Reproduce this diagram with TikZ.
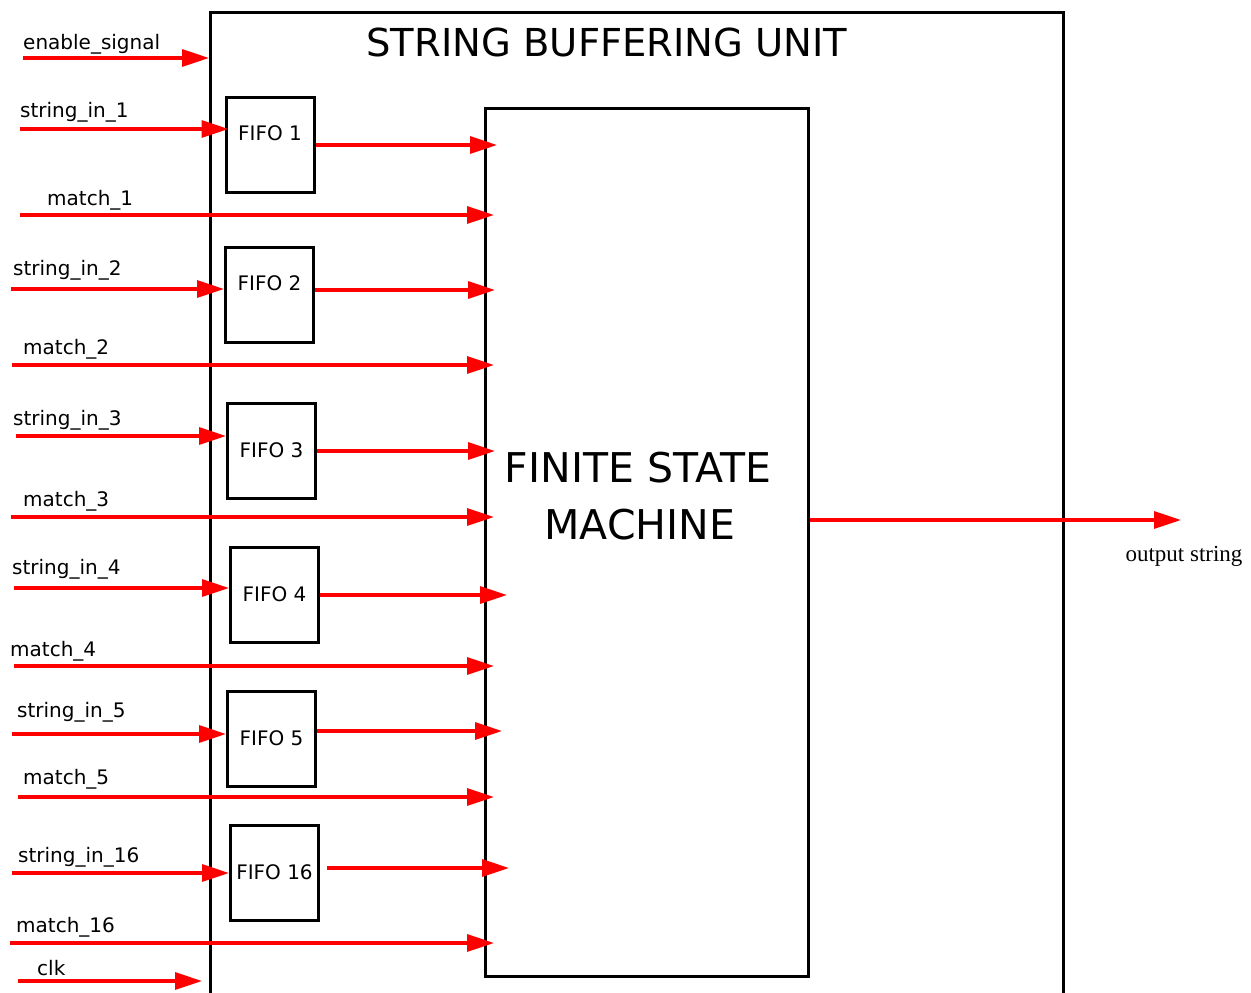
\documentclass[tikz,border=0pt]{standalone}
\usepackage{fontspec}
\setmainfont{DejaVu Sans}
\newfontfamily\outfont{Liberation Serif}
\usepackage{tikz}
\usetikzlibrary{arrows.meta,positioning,calc}
\definecolor{SigRed}{HTML}{FF0000}
\tikzset{
  unitbox/.style={draw=black, line width=3pt, minimum width=853pt, minimum height=1000pt,
                  anchor=north west, inner sep=0pt},
  fsmnode/.style={draw=black, line width=3pt, minimum width=323pt, minimum height=868pt,
                  anchor=north west, inner sep=0pt},
  fifonode/.style={draw=black, line width=3pt, minimum width=88pt, minimum height=95pt,
                  inner sep=0pt, font=\fontsize{20}{24}\selectfont},
  fifohigh/.style={fifonode, text depth=22pt},
  siglabel/.style={anchor=base west, inner sep=0pt, font=\fontsize{20}{24}\selectfont},
  bigtext/.style={anchor=base, inner sep=0pt, font=\fontsize{41}{48}\selectfont},
  sigarr/.style={-{Triangle[length=27pt,width=17pt]}, line width=3.2pt, SigRed},
  fsmarr/.style={sigarr, shorten >=-10pt}
}

\begin{document}
\begin{tikzpicture}[x=1pt, y=-1pt]
\useasboundingbox[fill=white] (0,0) rectangle (1251,993);

\node[unitbox] (unit) at (209,11) {};
\node[bigtext, font=\fontsize{38.5}{44}\selectfont] (title) at (607,56) {STRING BUFFERING UNIT};

\node[fsmnode] (fsm) at (484,107) {};
\node[bigtext] (fsmtop) at (638,482) {FINITE STATE};
\node[bigtext] (fsmbot) at (640,539) {MACHINE};

\node[fifohigh] (fifo1) at (270,144.5) {FIFO 1};
\node[fifohigh] (fifo2) at (269.5,294.5) {FIFO 2};
\node[fifonode] (fifo3) at (271.5,450.5) {FIFO 3};
\node[fifonode] (fifo4) at (274.5,594.5) {FIFO 4};
\node[fifonode] (fifo5) at (271.5,738.5) {FIFO 5};
\node[fifonode] (fifo16) at (274.5,872.5) {FIFO 16};

\coordinate (en) at (23,58);
\coordinate (in1) at (20,129);
\coordinate (m1) at (20,215);
\coordinate (in2) at (11,289);
\coordinate (m2) at (12,365);
\coordinate (in3) at (16,436);
\coordinate (m3) at (11,517);
\coordinate (in4) at (14,588);
\coordinate (m4) at (14,666);
\coordinate (in5) at (12,734);
\coordinate (m5) at (18,797);
\coordinate (in16) at (12,873);
\coordinate (m16) at (10,943);
\coordinate (clk) at (18,981);

\coordinate (f1) at (497,145);
\coordinate (f2) at (495,290);
\coordinate (f3) at (495,451);
\coordinate (f4) at (507,595);
\coordinate (f5) at (502,731);
\coordinate (f16) at (509,868);
\coordinate (out) at (1181,520);

\node[siglabel] (len) at (23,49) {enable\_signal};
\node[siglabel] (lin1) at (20,117) {string\_in\_1};
\node[siglabel] (lm1) at (47,205) {match\_1};
\node[siglabel] (lin2) at (13,275) {string\_in\_2};
\node[siglabel] (lm2) at (23,354) {match\_2};
\node[siglabel] (lin3) at (13,425) {string\_in\_3};
\node[siglabel] (lm3) at (23,506) {match\_3};
\node[siglabel] (lin4) at (12,574) {string\_in\_4};
\node[siglabel] (lm4) at (10,656) {match\_4};
\node[siglabel] (lin5) at (17,717) {string\_in\_5};
\node[siglabel] (lm5) at (23,784) {match\_5};
\node[siglabel] (lin16) at (18,862) {string\_in\_16};
\node[siglabel] (lm16) at (16,932) {match\_16};
\node[siglabel] (lclk) at (37,975) {clk};
\node[anchor=base, inner sep=0pt, font=\outfont\fontsize{23}{27}\selectfont] (lout) at (1184,561) {output string};

\draw[sigarr] (en) -- (en -| unit.west);
\draw[sigarr, shorten >=-4pt] (in1) -- (in1 -| fifo1.west);
\draw[sigarr] (in2) -- (in2 -| fifo2.west);
\draw[sigarr] (in3) -- (in3 -| fifo3.west);
\draw[sigarr] (in4) -- (in4 -| fifo4.west);
\draw[sigarr] (in5) -- (in5 -| fifo5.west);
\draw[sigarr] (in16) -- (in16 -| fifo16.west);
\draw[sigarr, shorten >=7pt] (clk) -- (clk -| unit.west);

\draw[fsmarr] (m1) -- (m1 -| fsm.west);
\draw[fsmarr] (m2) -- (m2 -| fsm.west);
\draw[fsmarr] (m3) -- (m3 -| fsm.west);
\draw[fsmarr] (m4) -- (m4 -| fsm.west);
\draw[fsmarr] (m5) -- (m5 -| fsm.west);
\draw[fsmarr] (m16) -- (m16 -| fsm.west);

\draw[sigarr] (fifo1.east |- f1) -- (f1);
\draw[sigarr] (fifo2.east |- f2) -- (f2);
\draw[sigarr] (fifo3.east |- f3) -- (f3);
\draw[sigarr] (fifo4.east |- f4) -- (f4);
\draw[sigarr] (fifo5.east |- f5) -- (f5);
\draw[sigarr] ([xshift=7pt]fifo16.east |- f16) -- (f16);

\draw[sigarr] (fsm.east |- out) -- (out);
\end{tikzpicture}
\end{document}
